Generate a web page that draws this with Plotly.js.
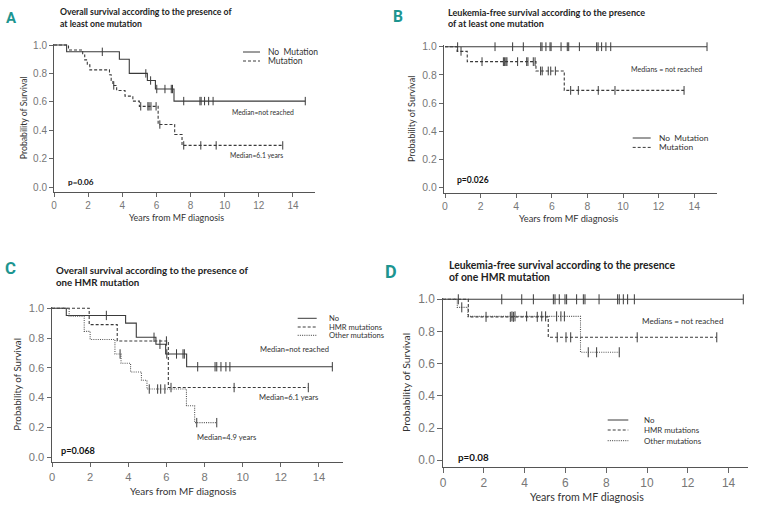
<!DOCTYPE html>
<html><head><meta charset="utf-8">
<script src="https://cdn.plot.ly/plotly-3.0.1.min.js"></script>
<style>html,body{margin:0;padding:0;background:#fff}#chart{width:761px;height:508px}</style>
</head><body><div id="chart"></div>
<script>
// ---------------- DATA ----------------
const xTickVals = [0, 2, 4, 6, 8, 10, 12, 14];
const yTickVals = [0, 0.2, 0.4, 0.6, 0.8, 1.0];
const xTitle = "Years from MF diagnosis";
const yTitle = "Probability of Survival";

// Panel A: overall survival, at least one mutation
const A_noTimes = [0, 0.74, 3.83, 4.41, 5.47, 5.94, 7.03, 14.72];
const A_noSurv  = [1, 0.952, 0.90, 0.80, 0.75, 0.69, 0.605, 0.605];
const A_noCens  = [2.83, 5.38, 5.66, 6.02, 6.5, 6.87, 6.94, 7.6, 8.55, 8.62, 8.82, 9.06, 9.32, 14.72];
const A_mutTimes = [0, 0.85, 1.68, 1.8, 1.95, 2.1, 3.25, 3.35, 3.45, 3.67, 4.16, 4.62, 5.0, 6.1, 7.07, 7.5, 13.4];
const A_mutSurv  = [1, 0.965, 0.93, 0.895, 0.86, 0.825, 0.79, 0.75, 0.715, 0.68, 0.64, 0.605, 0.568, 0.44, 0.37, 0.293, 0.293];
const A_mutCens  = [3.5, 5.08, 5.5, 5.57, 5.68, 5.98, 6.2, 7.6, 8.6, 9.5, 13.4];

// Panel B: leukemia-free survival, at least one mutation
const B_noTimes = [0, 14.72];
const B_noSurv  = [1, 1];
const B_noCens  = [0.71, 2.81, 3.8, 4.4, 5.38, 5.45, 5.67, 5.9, 5.96, 6.52, 6.87, 6.95, 7.55, 8.52, 8.6, 8.8, 9.04, 9.31, 14.72];
const B_mutTimes = [0, 0.68, 1.25, 5.11, 6.7, 13.43];
const B_mutSurv  = [1, 0.967, 0.894, 0.828, 0.69, 0.69];
const B_mutCens  = [0.9, 2.08, 3.28, 3.35, 3.42, 3.48, 4.08, 4.59, 4.66, 4.96, 5.06, 5.37, 5.46, 5.8, 5.94, 6.2, 7.06, 7.49, 8.61, 9.55, 13.43];

// Panel C: overall survival, HMR mutation
const C_noTimes = [0, 0.75, 3.86, 4.42, 5.45, 5.96, 7.06, 14.7];
const C_noSurv  = [1, 0.952, 0.90, 0.805, 0.758, 0.693, 0.607, 0.607];
const C_noCens  = [2.85, 5.35, 5.66, 6.02, 6.53, 6.87, 6.94, 7.64, 8.55, 8.64, 8.86, 9.12, 9.33, 14.7];
const C_hmrTimes = [0, 1.95, 3.42, 6.1, 13.44];
const C_hmrSurv  = [1, 0.89, 0.78, 0.467, 0.467];
const C_hmrCens  = [6.0, 6.24, 9.55, 13.44];
const C_othTimes = [0, 0.9, 1.69, 2.0, 3.3, 3.62, 4.12, 4.69, 4.98, 7.05, 7.48, 8.64];
const C_othSurv  = [1, 0.947, 0.845, 0.79, 0.693, 0.63, 0.572, 0.516, 0.457, 0.345, 0.231, 0.231];
const C_othCens  = [3.57, 5.1, 5.54, 5.7, 5.92, 7.59, 8.64];

// Panel D: leukemia-free survival, HMR mutation
const D_noTimes = [0, 14.72];
const D_noSurv  = [1, 1];
const D_noCens  = [0.75, 2.88, 3.86, 4.43, 5.41, 5.49, 5.7, 5.98, 6.06, 6.55, 6.88, 6.96, 7.65, 8.56, 8.64, 8.84, 9.05, 9.38, 14.72];
const D_hmrTimes = [0, 1.24, 5.16, 13.42];
const D_hmrSurv  = [1, 0.891, 0.764, 0.764];
const D_hmrCens  = [2.11, 3.3, 3.45, 4.62, 5.6, 6.03, 6.26, 9.52, 13.42];
const D_othTimes = [0, 0.7, 1.22, 6.74, 8.64];
const D_othSurv  = [1, 0.95, 0.894, 0.671, 0.671];
const D_othCens  = [0.92, 3.38, 3.53, 4.1, 4.84, 5.03, 5.57, 5.78, 5.95, 7.12, 7.53, 8.64];

// ---------------- LAYOUT HELPERS ----------------
const W = 761, H = 508;
const px = v => v / W;
const py = v => 1 - v / H;
const LINE = '#3a3a3a';
const DASH = '3px,2px';
const DOT = '1px,1.2px';
const TEAL = '#1d9590';
const TXT = '#333';
const FONT = 'Lato, Open Sans, sans-serif';

// panel geometry (pixels)
const panels = [
  {id:'', left:54,  right:315, x0:54,  xs:17.07, bottom:192,   top:43.5,  y0:187,   y1:45},
  {id:'2',left:444, right:717, x0:445, xs:17.8,  bottom:192.7, top:45,    y0:187.7, y1:46.7},
  {id:'3',left:52,  right:343, x0:52,  xs:19.07, bottom:462,   top:306.8, y0:457,   y1:308.3},
  {id:'4',left:443, right:748, x0:443, xs:20.4,  bottom:467,   top:297.8, y0:460.3, y1:299.3}
];

function survAt(times, surv, t) {
  let s = surv[0];
  for (let i = 0; i < times.length; i++) if (times[i] <= t) s = surv[i];
  return s;
}
function curve(times, surv, p, dash, color) {
  return {type:'scatter', mode:'lines', x:times, y:surv,
    xaxis:'x'+p.id, yaxis:'y'+p.id, showlegend:false, hoverinfo:'skip',
    line:{shape:'hv', color:color||LINE, width:1.1, dash:dash||'solid'}};
}
function censors(cens, times, surv, p, k) {
  return {type:'scatter', mode:'markers', x:cens, y:cens.map(t => survAt(times, surv, t)),
    xaxis:'x'+p.id, yaxis:'y'+p.id, showlegend:false, hoverinfo:'skip', cliponaxis:false,
    marker:{symbol:'line-ns-open', size:6*k, color:LINE, line:{width:1, color:LINE}}};
}

const data = [];
const P = panels;
const kk = P.map(p => p.xs / 17.07);
data.push(curve(A_noTimes, A_noSurv, P[0]), censors(A_noCens, A_noTimes, A_noSurv, P[0], kk[0]));
data.push(curve(A_mutTimes, A_mutSurv, P[0], DASH), censors(A_mutCens, A_mutTimes, A_mutSurv, P[0], kk[0]));
data.push(curve(B_noTimes, B_noSurv, P[1]), censors(B_noCens, B_noTimes, B_noSurv, P[1], kk[1]));
data.push(curve(B_mutTimes, B_mutSurv, P[1], DASH), censors(B_mutCens, B_mutTimes, B_mutSurv, P[1], kk[1]));
data.push(curve(C_noTimes, C_noSurv, P[2]), censors(C_noCens, C_noTimes, C_noSurv, P[2], kk[2]));
data.push(curve(C_hmrTimes, C_hmrSurv, P[2], DASH), censors(C_hmrCens, C_hmrTimes, C_hmrSurv, P[2], kk[2]));
data.push(curve(C_othTimes, C_othSurv, P[2], DOT, '#555'), censors(C_othCens, C_othTimes, C_othSurv, P[2], kk[2]));
data.push(curve(D_noTimes, D_noSurv, P[3]), censors(D_noCens, D_noTimes, D_noSurv, P[3], kk[3]));
data.push(curve(D_hmrTimes, D_hmrSurv, P[3], DASH), censors(D_hmrCens, D_hmrTimes, D_hmrSurv, P[3], kk[3]));
data.push(curve(D_othTimes, D_othSurv, P[3], DOT, '#555'), censors(D_othCens, D_othTimes, D_othSurv, P[3], kk[3]));

const layout = {
  width: W, height: H, margin:{l:0, r:0, t:0, b:0},
  paper_bgcolor:'#fff', plot_bgcolor:'rgba(0,0,0,0)',
  showlegend:false, annotations:[], shapes:[]
};

panels.forEach((p, i) => {
  const k = kk[i];
  const ys = p.y0 - p.y1;
  layout['xaxis'+p.id] = {
    domain:[px(p.left), px(p.right)], anchor:'y'+p.id,
    range:[(p.left - p.x0)/p.xs, (p.right - p.x0)/p.xs],
    tickvals:xTickVals, ticks:'outside', ticklen:4*k, tickcolor:'#666', tickwidth:1,
    showline:true, linecolor:'#555', linewidth:1, showgrid:false, zeroline:false,
    tickfont:{family:'Liberation Sans, Arial', size:10*k, color:'#777'}
  };
  layout['yaxis'+p.id] = {
    domain:[py(p.bottom), py(p.top)], anchor:'x'+p.id,
    range:[(p.y0 - p.bottom)/ys, (p.y0 - p.top)/ys],
    tickvals:yTickVals, tickformat:'.1f', ticks:'outside', ticklen:4*k, tickcolor:'#666', tickwidth:1,
    ticklabelstandoff:3.5*k,
    showline:true, linecolor:'#555', linewidth:1, showgrid:false, zeroline:false,
    tickfont:{family:'Liberation Sans, Arial', size:10*k, color:'#777'},
    title:{text:yTitle, standoff:4*k, font:{family:FONT, size:8.7*k, color:TXT}}
  };
});

function ann(text, x, y, opts) {
  layout.annotations.push(Object.assign({text:text, x:x, y:y, showarrow:false,
    xref:'paper', yref:'paper', xanchor:'left', yanchor:'middle', borderpad:0, align:'left',
    font:{family:FONT, size:10, color:TXT}}, opts||{}));
}
// several lines in one text, with a chosen line gap
function multi(lines, size, bold) {
  return lines.map(l => '<span style="font-size:' + size.toFixed(2) + 'px">' +
    (bold ? '<b>' + l + '</b>' : l) + '</span>').join('<br>');
}
function legLine(x1, x2, y, dash) {
  layout.shapes.push({type:'line', xref:'paper', yref:'paper', x0:px(x1), x1:px(x2), y0:py(y), y1:py(y),
    line:{color:LINE, width:1, dash:dash||'solid'}});
}

// panel letters
const letters = [['A',12,18],['B',398,16.5],['C',10.5,268],['D',390.5,271.5]];
letters.forEach((l, i) => ann('<b>'+l[0]+'</b>', px(l[1]), py(l[2]),
  {xanchor:'center', align:'center', font:{family:'Roboto, Liberation Sans', size:15*kk[i], color:TEAL}}));

// panel titles: [line1, line2, left x, y line1, y line2]
const titles = [
  ['Overall survival according to the presence of', 'at least one mutation', 59, 11, 23],
  ['Leukemia-free survival according to the presence', 'of at least one mutation', 446.7, 12, 23.3],
  ['Overall survival according to the presence of', 'one HMR mutation', 55, 269.4, 281.7],
  ['Leukemia-free survival according to the presence', 'of one HMR mutation', 448.3, 265.5, 277]
];
titles.forEach((t, i) => {
  const gap = t[4] - t[3];
  ann(multi([t[0], t[1]], 8.7*kk[i], true), px(t[2]), py((t[3]+t[4])/2),
    {font:{family:FONT, size:gap/1.3, color:'#222'}});
});

// x axis titles (centred on the 0-14 tick span, as in the reference)
const xTitlePos = [[176, 217], [568.7, 218], [183.3, 490.7], [586.7, 497.3]];
xTitlePos.forEach((q, i) => ann(xTitle, px(q[0]), py(q[1]),
  {xanchor:'center', align:'center', font:{family:FONT, size:8.9*kk[i], color:TXT}}));

// in-plot texts (data coordinates)
function dAnn(text, p, k, x, y, anchor, bold) {
  ann(bold ? '<b>'+text+'</b>' : text, x, y, {xref:'x'+p.id, yref:'y'+p.id, xanchor:anchor, align:anchor,
    font:{family:FONT, size:(bold?8.2:6.8)*k, color:bold?'#111':TXT}});
}
dAnn('Median=not reached', P[0], kk[0], 12.24, 0.528, 'center');
dAnn('Median=6.1 years', P[0], kk[0], 11.89, 0.225, 'center');
dAnn('p=0.06', P[0], kk[0], 0.76, 0.035, 'left', true);
dAnn('Medians = not reached', P[1], kk[1], 12.47, 0.835, 'center');
dAnn('p=0.026', P[1], kk[1], 0.62, 0.055, 'left', true);
dAnn('Median=not reached', P[2], kk[2], 12.74, 0.72, 'center');
dAnn('Median=6.1 years', P[2], kk[2], 12.41, 0.399, 'center');
dAnn('Median=4.9 years', P[2], kk[2], 9.16, 0.132, 'center');
dAnn('p=0.068', P[2], kk[2], 0.42, 0.042, 'left', true);
dAnn('Medians = not reached', P[3], kk[3], 11.75, 0.867, 'center');
dAnn('p=0.08', P[3], kk[3], 0.67, 0.022, 'left', true);

// legends (drawn manually for the compact spacing of the reference)
function legend(labels, dashes, x1, x2, tx, ys, size) {
  dashes.forEach((d, j) => legLine(x1, x2, ys[j], d));
  const gap = (ys[ys.length-1] - ys[0]) / (ys.length - 1);
  const mid = (ys[0] + ys[ys.length-1]) / 2;
  ann(multi(labels, size, false), px(tx), py(mid), {font:{family:FONT, size:gap/1.3, color:TXT}});
}
legend(['No  Mutation','Mutation'], ['solid',DASH], 243, 260, 267, [52, 61], 8.5*kk[0]);
legend(['No  Mutation','Mutation'], ['solid',DASH], 632.7, 650.7, 657.7, [138, 147.4], 8.4);
legend(['No','HMR mutations','Other mutations'], ['solid',DASH,DOT], 297.7, 316.7, 328.3, [318.3, 327, 335.3], 7.6);
legend(['No','HMR mutations','Other mutations'], ['solid',DASH,DOT], 607.7, 628.3, 643.3, [420, 430, 440.7], 7.9);

Plotly.newPlot('chart', data, layout, {staticPlot:true, displayModeBar:false});
</script>
</body></html>
